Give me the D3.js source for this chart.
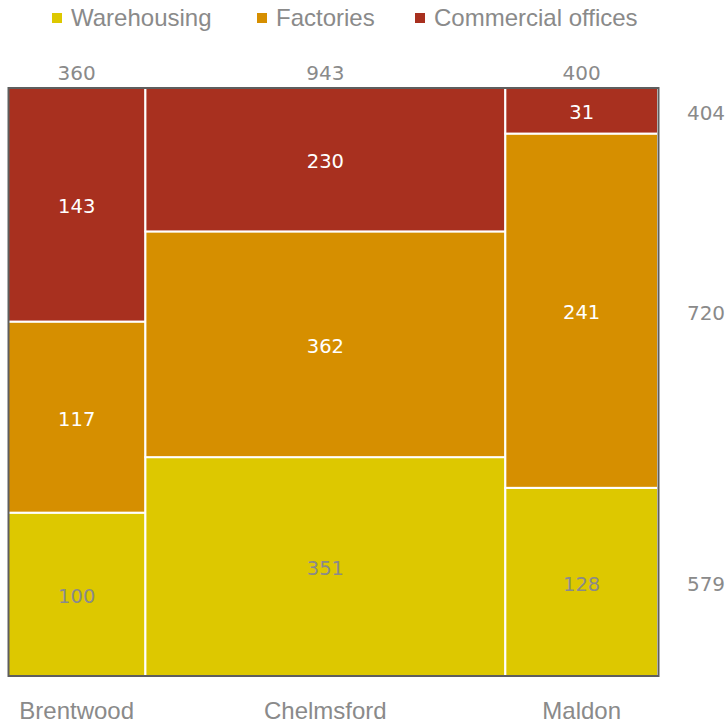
<!DOCTYPE html>
<html>
<head>
<meta charset="utf-8">
<script src="https://cdn.jsdelivr.net/npm/d3@7"></script>
<style>
  body { margin: 0; background: #fff; }
  svg { display: block; }
  text { font-family: "Liberation Sans Narrow", "Liberation Sans", Arial, sans-serif; }
  .num { font-family: "DejaVu Sans", Verdana, sans-serif; }
</style>
</head>
<body>
<svg id="chart" width="727" height="725"></svg>
<script>
// Mosaic chart: floor space by district (columns) and use type (stacked segments)
const districts = ["Brentwood", "Chelmsford", "Maldon"];
const uses = ["Warehousing", "Factories", "Commercial offices"];
const warehousing = [100, 351, 128];
const factories = [117, 362, 241];
const commercialOffices = [143, 230, 31];
const useColors = ["#DDC800", "#D68F00", "#A8301F"];
const labelColors = ["#8a8a8a", "#ffffff", "#ffffff"];

const seriesValues = [warehousing, factories, commercialOffices];
const columnTotals = districts.map((d, i) => d3.sum(seriesValues, s => s[i]));
const rowTotals = seriesValues.map(s => d3.sum(s));
const grandTotal = d3.sum(columnTotals);

const svg = d3.select("#chart");
const plot = { left: 8, right: 658, top: 88, bottom: 676 };

// Horizontal scale over cumulative column totals
const x = d3.scaleLinear().domain([0, grandTotal]).range([plot.left, plot.right]);
// Vertical share scale within each column
const y = d3.scaleLinear().domain([0, 1]).range([plot.bottom, plot.top]);

const columnStarts = d3.cumsum([0, ...columnTotals]).slice(0, districts.length);

const cells = [];
districts.forEach((d, i) => {
  let acc = 0;
  seriesValues.forEach((s, k) => {
    const v = s[i];
    cells.push({
      col: i, k, v,
      x0: x(columnStarts[i]), x1: x(columnStarts[i] + columnTotals[i]),
      y0: y(acc / columnTotals[i]), y1: y((acc + v) / columnTotals[i])
    });
    acc += v;
  });
});

svg.append("g").selectAll("rect").data(cells).join("rect")
  .attr("x", d => d.x0).attr("y", d => d.y1)
  .attr("width", d => d.x1 - d.x0).attr("height", d => d.y0 - d.y1)
  .attr("fill", d => useColors[d.k])
  .attr("stroke", "#fff").attr("stroke-width", 2);

// Outer frame drawn over the cell edges
svg.append("rect")
  .attr("x", plot.left + 0.5).attr("y", plot.top)
  .attr("width", plot.right - plot.left).attr("height", plot.bottom - plot.top)
  .attr("fill", "none").attr("stroke", "#5e5e5e").attr("stroke-width", 2);

// Segment value labels
svg.append("g").selectAll("text").data(cells).join("text")
  .attr("class", "num")
  .attr("x", d => (d.x0 + d.x1) / 2)
  .attr("y", d => (d.y0 + d.y1) / 2 + 1.5)
  .attr("dy", "0.365em")
  .attr("text-anchor", "middle")
  .attr("font-size", 19.5)
  .attr("fill", d => labelColors[d.k])
  .text(d => d.v);

// Column totals above
svg.append("g").selectAll("text").data(districts).join("text")
  .attr("class", "num")
  .attr("x", (d, i) => x(columnStarts[i] + columnTotals[i] / 2))
  .attr("y", 73).attr("dy", "0.365em")
  .attr("text-anchor", "middle")
  .attr("font-size", 20).attr("fill", "#8a8a8a")
  .text((d, i) => columnTotals[i]);

// District names below
svg.append("g").selectAll("text").data(districts).join("text")
  .attr("x", (d, i) => x(columnStarts[i] + columnTotals[i] / 2))
  .attr("y", 711).attr("dy", "0.35em")
  .attr("text-anchor", "middle")
  .attr("font-size", 24).attr("fill", "#8a8a8a")
  .text(d => d);

// Row totals on the right, aligned with the last column's segments
const lastCells = cells.filter(c => c.col === districts.length - 1);
svg.append("g").selectAll("text").data(lastCells).join("text")
  .attr("class", "num")
  .attr("x", 706).attr("y", d => (d.y0 + d.y1) / 2 + 1.5).attr("dy", "0.365em")
  .attr("text-anchor", "middle")
  .attr("font-size", 20).attr("fill", "#8a8a8a")
  .text(d => rowTotals[d.k]);

// Legend
const legendX = [52, 257, 415];
const legend = svg.append("g").selectAll("g").data(uses).join("g")
  .attr("transform", (d, i) => `translate(${legendX[i]},18)`);
legend.append("rect").attr("x", 0).attr("y", -5).attr("width", 10).attr("height", 10)
  .attr("fill", (d, i) => useColors[i]);
legend.append("text").attr("x", 19).attr("dy", "0.35em")
  .attr("font-size", 24).attr("fill", "#8a8a8a").text(d => d);
</script>
</body>
</html>
